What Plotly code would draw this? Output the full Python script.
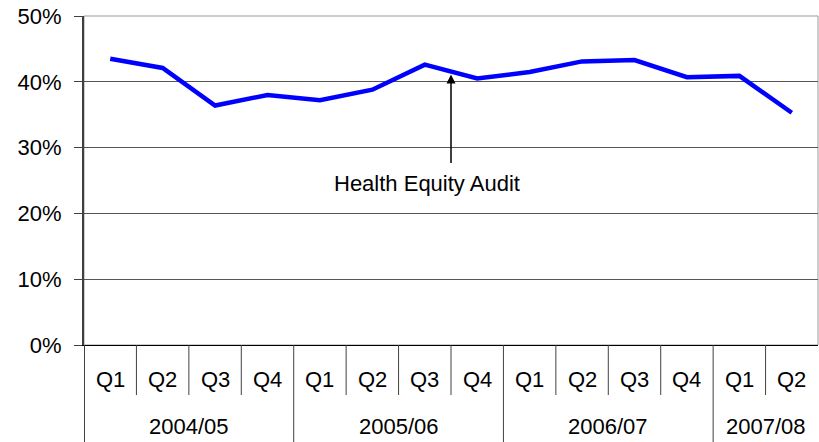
import plotly.graph_objects as go

# ---- data ----
years = ["2004/05"] * 4 + ["2005/06"] * 4 + ["2006/07"] * 4 + ["2007/08"] * 2
quarters = ["Q1", "Q2", "Q3", "Q4"] * 3 + ["Q1", "Q2"]
values = [43.5, 42.1, 36.4, 38.0, 37.2, 38.8, 42.6, 40.5, 41.5, 43.1, 43.3, 40.7, 40.9, 35.3]
y_ticks = [0, 10, 20, 30, 40, 50]
annotation_text = "Health Equity Audit"
annotation_x = 6.5      # between 2005/06 Q3 and Q4
annotation_y = 41.1

FONT = "Liberation Sans, Arial, sans-serif"
FS = 22

xs = list(range(len(values)))

fig = go.Figure()
fig.add_trace(go.Scatter(
    x=xs, y=values, mode="lines",
    line=dict(color="#0000FF", width=4.5),
    hoverinfo="skip", showlegend=False,
))

shapes = []
# plot-area border (grey)
shapes.append(dict(type="rect", xref="paper", yref="paper", x0=0, x1=1, y0=0, y1=1,
                   line=dict(color="#999999", width=1), layer="below"))

# category separators below the axis
Q_LOW = -0.152
Y_LOW = -0.32
for i in range(len(xs)):
    b = i - 0.5
    if i == 0 or years[i] != years[i - 1]:
        y0 = Y_LOW
        w = 2 if i == 0 else 1
    else:
        y0 = Q_LOW
        w = 1
    shapes.append(dict(type="line", xref="x", yref="paper", x0=b, x1=b, y0=0, y1=y0,
                       line=dict(color="#404040", width=w)))

annotations = []
for i, q in enumerate(quarters):
    annotations.append(dict(x=i, y=-0.106, xref="x", yref="paper", text=q, showarrow=False,
                            xanchor="center", yanchor="middle",
                            font=dict(family=FONT, size=FS, color="#000")))
# year group labels
groups = []
for i, yv in enumerate(years):
    if not groups or groups[-1][0] != yv:
        groups.append([yv, i, i])
    else:
        groups[-1][2] = i
for yv, a, b in groups:
    annotations.append(dict(x=(a + b) / 2, y=-0.249, xref="x", yref="paper", text=yv,
                            showarrow=False, xanchor="center", yanchor="middle",
                            font=dict(family=FONT, size=FS, color="#000")))

# arrow
annotations.append(dict(x=annotation_x, y=annotation_y, xref="x", yref="y", text="",
                        showarrow=True, ax=0, ay=90, axref="pixel", ayref="pixel",
                        arrowhead=2, arrowsize=1.2, arrowwidth=1.5, arrowcolor="#000"))
# label
annotations.append(dict(x=6.04, y=24.5, xref="x", yref="y", text=annotation_text,
                        showarrow=False, xanchor="center", yanchor="middle",
                        font=dict(family=FONT, size=FS, color="#000")))

fig.update_layout(
    width=819, height=442,
    margin=dict(l=84, r=1, t=16, b=97, pad=0),
    paper_bgcolor="white", plot_bgcolor="white",
    shapes=shapes, annotations=annotations,
    font=dict(family=FONT, size=FS, color="#000"),
    xaxis=dict(range=[-0.5, len(xs) - 0.5], showticklabels=False, showgrid=False,
               zeroline=False, showline=True, linecolor="#000", linewidth=1, ticks="",
               fixedrange=True),
    yaxis=dict(range=[0, 50], tickvals=y_ticks, ticktext=[f"{v}%" for v in y_ticks],
               showgrid=True, gridcolor="#555555", gridwidth=1, zeroline=False,
               showline=True, linecolor="#404040", linewidth=2,
               ticks="outside", ticklen=8, tickcolor="#404040", tickwidth=1,
               ticklabelstandoff=8, tickfont=dict(family=FONT, size=FS, color="#000"),
               fixedrange=True),
)

fig.write_html("out.html", config={"displayModeBar": False},
               post_script="document.body.style.margin='0';document.body.style.overflow='hidden';")
